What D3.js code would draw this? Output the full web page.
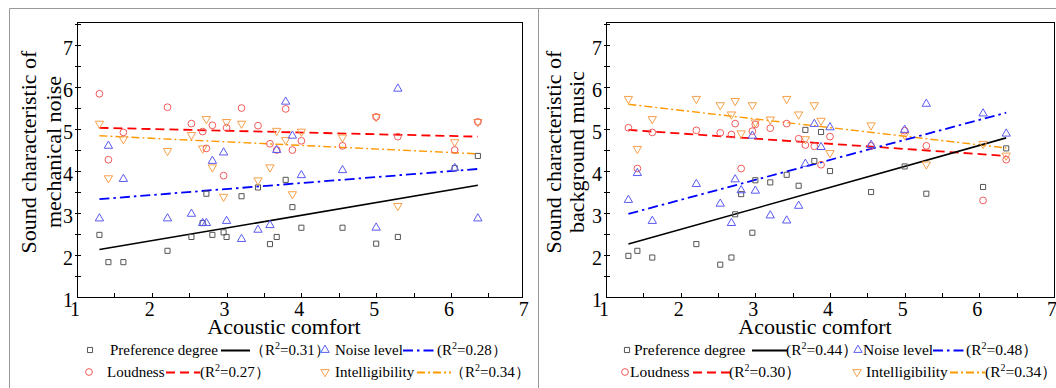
<!DOCTYPE html>
<html>
<head>
<meta charset="utf-8">
<script src="https://cdn.jsdelivr.net/npm/d3@7"></script>
<style>
  body { margin: 0; background: #fff; }
</style>
</head>
<body>
<div id="chart"></div>
<script>
// acoustic comfort score of each sample (same x in both panels)
const comfort = [1.30, 1.42, 1.62, 2.21, 2.53, 2.68, 2.73, 2.81, 2.96, 3.00, 3.20,
                 3.42, 3.58, 3.67, 3.79, 3.88, 4.00, 4.55, 5.00, 5.29, 6.05, 6.36];

// left panel: mechanical noise
const prefMech  = [2.48, 1.83, 1.83, 2.10, 2.43, 2.76, 3.46, 2.48, 2.54, 2.43, 3.40,
                   3.61, 2.26, 2.43, 3.79, 3.14, 2.65, 2.65, 2.27, 2.43, 4.07, 4.36];
const loudMech  = [5.84, 4.27, 4.92, 5.52, 5.13, 4.94, 4.54, 5.09, 3.89, 5.03, 5.50,
                   5.08, 4.65, 4.50, 5.48, 4.50, 4.72, 4.60, 5.29, 4.82, 4.50, 5.17];
const noiseMech = [2.87, 4.60, 3.81, 2.87, 2.98, 2.76, 2.76, 4.24, 4.44, 2.81, 2.38,
                   2.60, 2.71, 4.50, 5.65, 4.84, 3.90, 4.02, 2.65, 5.96, 4.07, 2.87];
const intelMech = [5.13, 3.83, 4.76, 4.48, 4.86, 4.54, 5.24, 4.09, 3.39, 5.17, 5.13,
                   3.78, 4.09, 4.96, 4.74, 3.45, 4.94, 4.80, 5.29, 3.17, 4.69, 5.17];

// right panel: background music
const prefMusic  = [1.98, 2.10, 1.94, 2.26, 1.77, 1.94, 2.97, 3.45, 2.53, 3.78, 3.73,
                    3.91, 3.65, 4.98, 4.24, 4.93, 4.00, 3.50, 4.11, 3.46, 3.62, 4.54];
const loudMusic  = [5.03, 4.06, 4.92, 4.97, 4.91, 4.87, 5.13, 4.06, 4.95, 5.11, 5.02,
                    5.13, 4.77, 4.62, 4.59, 4.15, 4.82, 4.60, 4.96, 4.60, 3.30, 4.27];
const noiseMusic = [3.31, 3.95, 2.81, 3.69, 3.22, 2.76, 3.80, 3.54, 4.84, 3.53, 2.94,
                    2.82, 3.17, 4.17, 5.12, 4.57, 5.04, 4.62, 4.98, 5.60, 5.37, 4.89];
const intelMusic = [5.72, 4.53, 5.24, 5.72, 5.57, 5.35, 5.67, 4.90, 5.57, 5.16, 5.23,
                    5.72, 5.35, 4.76, 5.57, 5.20, 4.43, 5.09, 4.86, 4.16, 4.65, 4.37];

// fitted lines, value at start and end of fitRange
const fitRange = [1.30, 6.36];
const fitMech  = {pref: [2.13, 3.66], loud: [5.03, 4.82], noise: [3.33, 4.05], intel: [4.84, 4.41]};
const fitMusic = {pref: [2.26, 4.79], loud: [4.98, 4.36], noise: [2.98, 5.39], intel: [5.59, 4.55]};

const r2Mech  = {pref: "0.31", noise: "0.28", loud: "0.27", intel: "0.34"};
const r2Music = {pref: "0.44", noise: "0.48", loud: "0.30", intel: "0.34"};

const yTickLabels = [1, 2, 3, 4, 5, 6, 7];
const xTickLabels = [1, 2, 3, 4, 5, 6, 7];

const seriesNames = {pref: "Preference degree", noise: "Noise level", loud: "Loudness", intel: "Intelligibility"};

// look of each series
const styles = {
  pref:  {symbol: d3.symbolSquare,   size: 26, rot: 0,   mark: "#555",    line: "#000",    width: 1.6, dash: null},
  loud:  {symbol: d3.symbolCircle,   size: 36, rot: 0,   mark: "#f25a5a", line: "#ff0000", width: 1.8, dash: "9,5"},
  noise: {symbol: d3.symbolTriangle, size: 30, rot: 0,   mark: "#5a5af2", line: "#0000ff", width: 1.8, dash: "10,4,2.5,4"},
  intel: {symbol: d3.symbolTriangle, size: 30, rot: 180, mark: "#f7a04a", line: "#ff9900", width: 1.4, dash: "8,3,2,3"}
};

const FONT = "Liberation Serif";
const W = 1056, H = 388;
const svg = d3.select("#chart").append("svg")
  .attr("width", W)
  .attr("height", H);

// outer frame of the figure
svg.append("line").attr("x1", 9.5).attr("x2", 9.5).attr("y1", 8.5).attr("y2", H).attr("stroke", "#999");
svg.append("line").attr("x1", 9.5).attr("x2", W).attr("y1", 8.5).attr("y2", 8.5).attr("stroke", "#999");
svg.append("line").attr("x1", 538.5).attr("x2", 538.5).attr("y1", 8.5).attr("y2", H).attr("stroke", "#999");

function drawPanel(cfg) {
  const x = d3.scaleLinear().domain(cfg.xDomain).range([cfg.left, cfg.right]);
  const y = d3.scaleLinear().domain([1, 7.55]).range([297, 22]);
  const g = svg.append("g");

  // plot box
  g.append("rect")
    .attr("x", cfg.left + 0.5).attr("y", 22.5)
    .attr("width", cfg.right - cfg.left).attr("height", 297 - 22)
    .attr("fill", "none").attr("stroke", "#000").attr("stroke-width", 1);

  // y ticks (half units) and labels
  g.selectAll(".ytick").data(d3.range(1.5, 7.51, 0.5)).enter().append("line")
    .attr("x1", cfg.left - 2).attr("x2", cfg.left + 4)
    .attr("y1", d => Math.round(y(d)) + 0.5).attr("y2", d => Math.round(y(d)) + 0.5)
    .attr("stroke", "#000");
  g.selectAll(".ylab").data(yTickLabels).enter().append("text")
    .attr("x", cfg.left - 4)
    .attr("y", d => y(d) + 10)
    .attr("text-anchor", "end")
    .attr("font-family", FONT)
    .attr("font-size", 20)
    .text(d => d);

  // x ticks point inward
  g.selectAll(".xtick").data(d3.range(1.5, cfg.xDomain[1], 0.5)).enter().append("line")
    .attr("x1", d => Math.round(x(d)) + 0.5).attr("x2", d => Math.round(x(d)) + 0.5)
    .attr("y1", 297).attr("y2", 293)
    .attr("stroke", "#000");
  g.selectAll(".xlab").data(xTickLabels).enter().append("text")
    .attr("x", d => x(d) - 2)
    .attr("y", 316)
    .attr("text-anchor", "middle")
    .attr("font-family", FONT)
    .attr("font-size", 20)
    .text(d => d);

  // axis titles
  g.append("text")
    .attr("x", cfg.xTitleX).attr("y", 334)
    .attr("text-anchor", "middle")
    .attr("font-family", FONT)
    .attr("font-size", 22)
    .text("Acoustic comfort");
  cfg.yTitle.forEach((t, i) => {
    g.append("text")
      .attr("transform", "translate(" + cfg.yTitleX[i] + ",152) rotate(-90)")
      .attr("text-anchor", "middle")
      .attr("dy", "0.35em")
      .attr("font-family", FONT)
      .attr("font-size", 22)
      .text(t);
  });

  // fitted lines
  const line = d3.line().x(d => x(d[0])).y(d => y(d[1]));
  ["intel", "loud", "noise", "pref"].forEach(k => {
    const st = styles[k];
    g.append("path")
      .datum([[fitRange[0], cfg.fit[k][0]], [fitRange[1], cfg.fit[k][1]]])
      .attr("d", line)
      .attr("fill", "none")
      .attr("stroke", st.line)
      .attr("stroke-width", st.width)
      .attr("stroke-dasharray", st.dash);
  });

  // scatter markers
  ["pref", "intel", "loud", "noise"].forEach(k => {
    const st = styles[k];
    const sym = d3.symbol().type(st.symbol).size(st.size);
    g.append("g").selectAll("path")
      .data(comfort.map((c, i) => [c, cfg.data[k][i]]))
      .enter().append("path")
      .attr("d", sym)
      .attr("transform", d => "translate(" + x(d[0]) + "," + y(d[1]) + ") rotate(" + st.rot + ")")
      .attr("fill", "none")
      .attr("stroke", st.mark)
      .attr("stroke-width", 1);
  });

  // legend
  cfg.legend.forEach(item => {
    const st = styles[item.key];
    g.append("path")
      .attr("d", d3.symbol().type(st.symbol).size(st.size))
      .attr("transform", "translate(" + item.mx + "," + item.y + ") rotate(" + st.rot + ")")
      .attr("fill", "none")
      .attr("stroke", st.mark);
    g.append("text")
      .attr("x", item.tx).attr("y", item.y + 5)
      .attr("font-family", FONT)
      .attr("font-size", cfg.legendFont)
      .text(seriesNames[item.key]);
    g.append("line")
      .attr("x1", item.l1).attr("x2", item.l2)
      .attr("y1", item.y + 0.5).attr("y2", item.y + 0.5)
      .attr("stroke", st.line)
      .attr("stroke-width", st.width + 0.4)
      .attr("stroke-dasharray", st.dash);
    const r = g.append("text")
      .attr("x", item.rx).attr("y", item.y + 5)
      .attr("font-family", FONT)
      .attr("font-size", cfg.legendFont);
    r.append("tspan").text(item.open + "R");
    r.append("tspan").attr("dy", -6).attr("font-size", 10).text("2");
    r.append("tspan").attr("dy", 6).text("=" + cfg.r2[item.key] + "）");
  });
}

drawPanel({
  left: 77, right: 522, xDomain: [1, 6.95],
  data: {pref: prefMech, loud: loudMech, noise: noiseMech, intel: intelMech},
  fit: fitMech, r2: r2Mech,
  xTitleX: 284,
  yTitle: ["Sound characteristic of", "mechanical noise"], yTitleX: [28, 53],
  legendFont: 15,
  legend: [
    {key: "pref",  y: 350, mx: 90,  tx: 110, l1: 221, l2: 250, rx: 250, open: "（"},
    {key: "noise", y: 350, mx: 325, tx: 335, l1: 403, l2: 437, rx: 437, open: "("},
    {key: "loud",  y: 372, mx: 89,  tx: 107, l1: 166, l2: 200, rx: 200, open: "("},
    {key: "intel", y: 372, mx: 325, tx: 335, l1: 417, l2: 451, rx: 450, open: "（"}
  ]
});

drawPanel({
  left: 606, right: 1054, xDomain: [1, 7],
  data: {pref: prefMusic, loud: loudMusic, noise: noiseMusic, intel: intelMusic},
  fit: fitMusic, r2: r2Music,
  xTitleX: 815,
  yTitle: ["Sound characteristic of", "background music"], yTitleX: [553, 576],
  legendFont: 15.5,
  legend: [
    {key: "pref",  y: 350, mx: 627, tx: 634, l1: 752, l2: 787, rx: 786, open: "("},
    {key: "noise", y: 350, mx: 858, tx: 863, l1: 933, l2: 967, rx: 966, open: "("},
    {key: "loud",  y: 372, mx: 625, tx: 630, l1: 693, l2: 730, rx: 729, open: "("},
    {key: "intel", y: 372, mx: 857, tx: 866, l1: 950, l2: 985, rx: 985, open: "("}
  ]
});
</script>
</body>
</html>
